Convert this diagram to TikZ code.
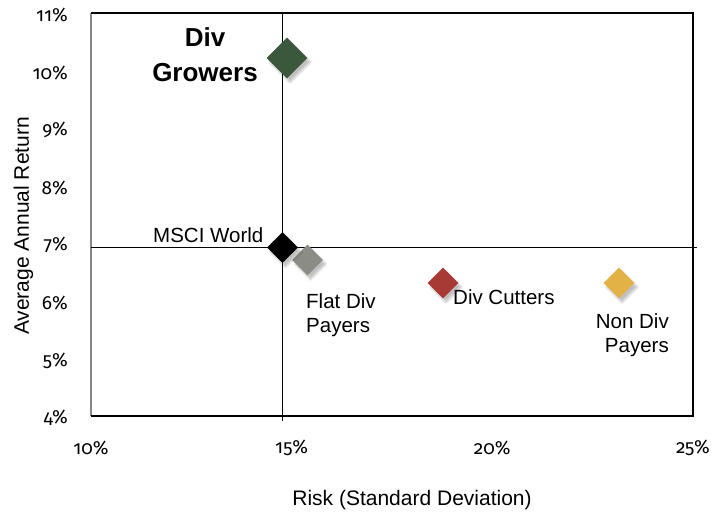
\documentclass[tikz,border=0pt]{standalone}
\usepackage{fontspec}
\setmainfont{Liberation Sans}
\newfontfamily\tickfont[Numbers=OldStyle]{Fira Sans}
\usetikzlibrary{shapes.geometric,shadows.blur}
\definecolor{growgreen}{RGB}{60,88,60}
\definecolor{flatgray}{RGB}{140,140,135}
\definecolor{cutred}{RGB}{168,58,54}
\definecolor{nondivgold}{RGB}{227,178,70}
\definecolor{axisgray}{RGB}{134,134,134}
\tikzset{
    marker/.style={diamond, aspect=1, inner sep=0pt, minimum size=31pt,
        blur shadow={shadow xshift=3pt, shadow yshift=-4pt, shadow opacity=25, shadow blur steps=6}},
    ticklabel/.style={font=\tickfont\fontsize{19}{19}\selectfont, inner sep=0pt},
    pointlabel/.style={font=\fontsize{20.5}{24}\selectfont, inner sep=0pt},
    axistitle/.style={font=\fontsize{21}{21}\selectfont, inner sep=0pt},
}

\begin{document}
\begin{tikzpicture}[x=40.13pt, y=57.57pt]
\useasboundingbox (7.7324,2.3325) rectangle (25.799,11.2258);
\coordinate (bl) at (10,4);
\coordinate (tl) at (10,11);
\coordinate (tr) at (25,11);
\coordinate (br) at (25,4);
\coordinate (mscipt) at (14.772,6.927);
% frame
\draw[axisgray,line width=1.5pt] (bl) -- (tl);
\draw[line width=1.5pt] (tl) -- (tr) -- (br) -- (bl);
% quadrant lines through the index
\draw[line width=1.5pt] (mscipt |- tl) -- ([yshift=-5pt]mscipt |- bl);
\draw[line width=1.5pt] (mscipt -| bl) -- ([xshift=4pt]mscipt -| br);
% tick labels
\node[ticklabel,anchor=east] (y4) at (9.427,3.965) {4\%};
\node[ticklabel,anchor=east] (y5) at (9.427,4.965) {5\%};
\node[ticklabel,anchor=east] (y6) at (9.427,5.965) {6\%};
\node[ticklabel,anchor=east] (y7) at (9.427,6.965) {7\%};
\node[ticklabel,anchor=east] (y8) at (9.427,7.965) {8\%};
\node[ticklabel,anchor=east] (y9) at (9.427,8.965) {9\%};
\node[ticklabel,anchor=east] (y10) at (9.427,9.965) {10\%};
\node[ticklabel,anchor=east] (y11) at (9.427,10.965) {11\%};
\node[ticklabel] (x10) at (10,3.444) {10\%};
\node[ticklabel] (x15) at (15,3.444) {15\%};
\node[ticklabel] (x20) at (20,3.444) {20\%};
\node[ticklabel] (x25) at (25,3.444) {25\%};
\node[axistitle,rotate=90] (ytitle) at (8.318,7.300) {Average Annual Return};
\node[axistitle] (xtitle) at (18.0,2.541) {Risk (Standard Deviation)};
% portfolios
\node[marker,fill=growgreen,minimum size=41pt] (growers) at (14.884,10.218) {};
\node[marker,fill=flatgray] (flat) at (15.395,6.710) {};
\node[marker,fill=black] (msci) at (mscipt) {};
\node[marker,fill=cutred] (cutters) at (18.771,6.310) {};
\node[marker,fill=nondivgold] (nondiv) at (23.157,6.310) {};
% labels
\node[inner sep=0pt,align=center,anchor=north,font=\bfseries\fontsize{26}{35}\selectfont] (growerslbl) at (12.841,10.757) {Div\\Growers};
\node[pointlabel,anchor=base west] (mscilbl) at (11.545,7.022) {MSCI World};
\node[pointlabel,anchor=north west,align=left] (flatlbl) at (15.358,6.137) {Flat Div\\Payers};
\node[pointlabel,anchor=base west] (cutterslbl) at (19.021,5.928) {Div Cutters};
\node[pointlabel,anchor=north east,align=right] (nondivlbl) at (24.403,5.789) {Non Div\\Payers};
\end{tikzpicture}
\end{document}
